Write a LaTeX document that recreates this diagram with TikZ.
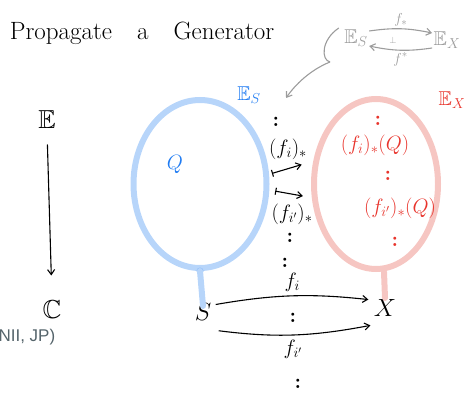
\documentclass[tikz,border=0pt]{standalone}
\usepackage{amssymb}
\usepackage{fontspec}
\newfontfamily\footfont{Liberation Sans}
\usetikzlibrary{arrows.meta, positioning, shapes.geometric, calc}
\definecolor{cblue}{HTML}{1F7BF2}
\definecolor{clblue}{HTML}{B7D5FA}
\definecolor{cred}{HTML}{E8342C}
\definecolor{clred}{HTML}{F6C6C2}
\definecolor{cgrey}{HTML}{9C9C9C}
\definecolor{cfoot}{HTML}{55646B}
\tikzset{
  every picture/.style={x=1pt, y=1pt, line width=1.1pt},
  blob/.style={ellipse, draw=#1, line width=6pt, line cap=round},
  stem/.style={draw=#1, line width=6pt, line cap=round},
  arrow/.style={-{Straight Barb[length=5pt, width=7pt]}, draw=black},
  mapsto/.style={{Bar[width=7pt]}-{Straight Barb[length=5pt, width=7pt]}, draw=black},
  lab/.style={font=\fontsize{20}{22}\selectfont, inner sep=1pt},
  redlab/.style={font=\fontsize{22}{24}\selectfont, inner sep=1pt, text=cred},
  big/.style={font=\fontsize{26}{28}\selectfont, inner sep=1pt},
  dots/.style={font=\fontsize{21}{21}\selectfont\bfseries, inner sep=0pt},
  greylab/.style={text=cgrey, font=\fontsize{20}{22}\selectfont, inner sep=1pt},
  greysmall/.style={text=cgrey, font=\fontsize{15}{16}\selectfont, inner sep=1pt},
}
\begin{document}
\begin{tikzpicture}
  \useasboundingbox (0,0) rectangle (465,-393);
  % title and footer
  \node[anchor=west, font=\fontsize{25}{27}\selectfont] (title) at (6,-33) {Propagate\quad a\quad Generator};
  \node[anchor=west, font=\footfont\fontsize{17}{19}\selectfont, text=cfoot, inner sep=0pt] (foot) at (-2,-337) {NII, JP)};
  % adjunction, grey
  \node[greylab] (ESt) at (356,-38) {$\mathbb{E}_S$};
  \node[greylab] (EXt) at (447,-40) {$\mathbb{E}_X$};
  \draw[arrow, draw=cgrey] ([yshift=7]ESt.east) to[bend left=10] node[above=1pt, greysmall] (fup) {$f_*$} ([yshift=7]EXt.west);
  \draw[arrow, draw=cgrey] ([yshift=-8]EXt.west) to[bend left=10] node[below=1pt, greysmall] (fdn) {$f^*$} ([yshift=-8]ESt.east);
  \node[text=cgrey, font=\small] (adj) at (393,-40) {$\perp$};
  \coordinate (brk) at (330,-62);
  \coordinate (tgt) at (286,-98);
  \draw[cgrey] (ESt.north west) ++(-4,0) .. controls (321,-40) and (321,-60) .. (brk);
  \draw[arrow, draw=cgrey] (brk) .. controls (310,-70) and (295,-85) .. (tgt);
  % left column
  \node[big] (E) at (47,-120) {$\mathbb{E}$};
  \node[big] (C) at (52,-310) {$\mathbb{C}$};
  \draw[arrow, shorten <=14pt, shorten >=24pt] (E.south) -- (C.north);
  % fibres over S and X
  \node[blob=clblue, minimum width=133, minimum height=168] (blobS) at (200,-184) {};
  \node[blob=clred, minimum width=124, minimum height=170] (blobX) at (376,-184) {};
  \node[big] (S) at (203,-312) {$S$};
  \node[big] (X) at (385,-308) {$X$};
  \fill[cblue!50] (blobS.south) circle (3.5);
  \draw[stem=clblue] (blobS.south) -- ([yshift=-4]S.north);
  \draw[stem=clred] ([xshift=8]blobX.south) -- ([yshift=0]X.north);
  \node[lab, text=cblue] (ESl) at (249,-95) {$\mathbb{E}_S$};
  \node[lab, text=cred] (EXl) at (452,-100) {$\mathbb{E}_X$};
  \node[lab, text=cblue] (Q) at (175,-164) {$Q$};
  % fibre over X
  \node[redlab] (img1) at (375,-145) {$(f_i)_*(Q)$};
  \node[redlab] (img2) at (400,-208) {$(f_{i'})_*(Q)$};
  \foreach \n/\x/\y in {r1/378/-121, r2/388/-176, r3/395/-242}
    \node[dots, text=cred] (\n) at (\x,\y) {:};
  % between the fibres
  \node[lab] (fi1) at (288,-149) {$(f_i)_*$};
  \node[lab] (fi2) at (292,-214) {$(f_{i'})_*$};
  \foreach \n/\x/\y in {b1/276/-122, b2/290/-238, b3/285/-263, b4/293/-318, b5/298/-384}
    \node[dots] (\n) at (\x,\y) {:};
  \draw[mapsto, shorten <=3pt, shorten >=12pt] (blobS.8) -- (blobX.160);
  \draw[mapsto, shorten <=6pt, shorten >=9pt] (blobS.-5) -- (blobX.-168);
  % base arrows
  \draw[arrow, shorten <=3pt, shorten >=4pt] ([yshift=7]S.east) to[bend left=8] node[above=3pt, lab] (fi) {$f_i$} ([yshift=8]X.west);
  \draw[arrow, shorten <=6pt, shorten >=2pt] ([yshift=-18]S.east) to[bend right=9] node[below=4pt, lab] (fj) {$f_{i'}$} ([yshift=-17]X.west);
\end{tikzpicture}
\end{document}
